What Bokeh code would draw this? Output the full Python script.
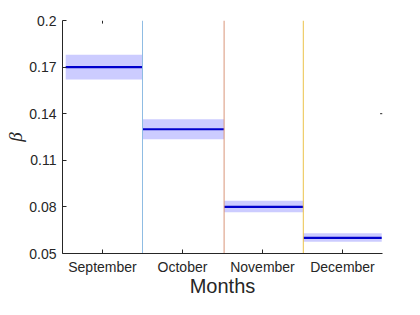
from bokeh.plotting import figure
from bokeh.models import FixedTicker, Range1d
from bokeh.embed import file_html
from bokeh.resources import INLINE

months = ["September", "October", "November", "December"]
month_pos = [1, 2, 3, 4]
beta = [0.170, 0.130, 0.080, 0.060]
beta_lo = [0.162, 0.1235, 0.0765, 0.0575]
beta_hi = [0.178, 0.1365, 0.0840, 0.0630]
seg_start = [0.54, 1.5, 2.52, 3.51]
seg_end = [1.5, 2.52, 3.51, 4.49]
divider_x = [1.5, 2.52, 3.51]
divider_colors = ["#8fbce3", "#d9967a", "#ebc24a"]
y_ticks = [0.05, 0.08, 0.11, 0.14, 0.17, 0.2]
y_tick_labels = ["0.05", "0.08", "0.11", "0.14", "0.17", "0.2"]

TXT = "#262626"
FONT = "Liberation Sans"

p = figure(width=404, height=299, output_backend="svg", toolbar_location=None,
           x_range=Range1d(0.5, 4.5), y_range=Range1d(0.05, 0.2),
           min_border_left=62, min_border_top=20, min_border_right=22, min_border_bottom=44)
p.outline_line_color = None
p.grid.visible = False
p.background_fill_color = "white"
p.border_fill_color = "white"

p.quad(left=seg_start, right=seg_end, bottom=beta_lo, top=beta_hi,
       fill_color="#ccccff", fill_alpha=1.0, line_color=None)
p.segment(x0=seg_start, x1=seg_end, y0=beta, y1=beta, line_color="#0000cc", line_width=2.2)

for xv, c in zip(divider_x, divider_colors):
    p.segment(x0=[xv], x1=[xv], y0=[0.05], y1=[0.2], line_color=c, line_width=1)

p.segment(x0=[month_pos[0]], x1=[month_pos[0]], y0=[0.2], y1=[0.198], line_color=TXT, line_width=1)
p.segment(x0=[4.5], x1=[4.47], y0=[y_ticks[3]], y1=[y_ticks[3]], line_color=TXT, line_width=1)

xa = p.xaxis[0]
xa.ticker = FixedTicker(ticks=month_pos)
xa.major_label_overrides = {m: s for m, s in zip(month_pos, months)}
xa.axis_label = "Months"
xa.axis_label_text_font = FONT
xa.axis_label_text_font_size = "20px"
xa.axis_label_text_font_style = "normal"
xa.axis_label_text_color = TXT
xa.axis_label_standoff = -3
xa.major_label_text_font = FONT
xa.major_label_text_font_size = "14px"
xa.major_label_text_color = TXT
xa.major_label_standoff = 5
xa.major_tick_in = 4
xa.major_tick_out = 0
xa.minor_tick_line_color = None
xa.axis_line_color = TXT
xa.major_tick_line_color = TXT

ya = p.yaxis[0]
ya.ticker = FixedTicker(ticks=y_ticks)
ya.major_label_overrides = {t: s for t, s in zip(y_ticks, y_tick_labels)}
ya.axis_label = "β"
ya.axis_label_text_font = "Liberation Serif"
ya.axis_label_text_font_size = "19px"
ya.axis_label_text_font_style = "italic"
ya.axis_label_text_color = TXT
ya.axis_label_standoff = 0
ya.major_label_text_font = FONT
ya.major_label_text_font_size = "14px"
ya.major_label_text_color = TXT
ya.major_label_standoff = 6
ya.major_tick_in = 4
ya.major_tick_out = 0
ya.minor_tick_line_color = None
ya.axis_line_color = TXT
ya.major_tick_line_color = TXT

open("out.html", "w").write(file_html(p, INLINE))
